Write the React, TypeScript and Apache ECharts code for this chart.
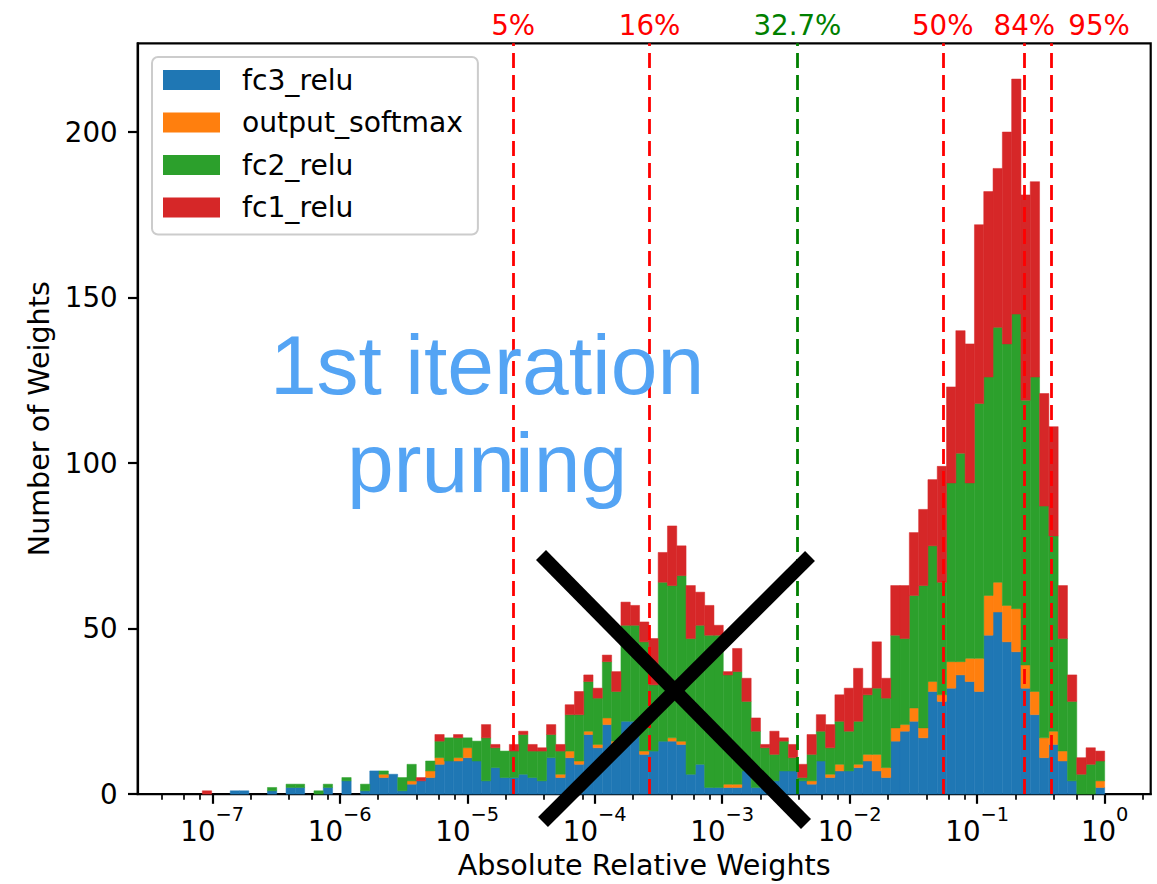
import React, { useEffect, useRef } from 'react';
import * as echarts from 'echarts';

// ---------- data (histogram of |relative weights|, log10 bins) ----------
const SERIES_NAMES = ['fc3_relu', 'output_softmax', 'fc2_relu', 'fc1_relu'];
const SERIES_COLORS = ['#1f77b4', '#ff7f0e', '#2ca02c', '#d62728'];

// bin edges span 10^BIN_LOG_MIN .. 10^BIN_LOG_MAX, equal width in log space
const BIN_LOG_MIN = -7.224;
const BIN_LOG_MAX = 0;

const fc3Relu = [
  0, 0, 0, 0, 0, 1, 1, 0, 0, 1,
  0, 2, 2, 0, 0, 2, 0, 4, 0, 1,
  7, 5, 6, 1, 3, 4, 5, 9, 10, 10,
  11, 10, 4, 8, 5, 5, 6, 5, 4, 11,
  5, 11, 9, 18, 14, 21, 15, 22, 22, 12,
  13, 16, 16, 15, 6, 9, 2, 2, 2, 2,
  7, 2, 3, 4, 7, 7, 4, 3, 10, 5,
  7, 7, 8, 10, 7, 5, 16, 19, 22, 17,
  31, 28, 32, 36, 34, 31, 48, 55, 46, 43,
  32, 24, 11, 15, 10, 4, 0, 0, 2,
];
const outputSoftmax = [
  0, 0, 0, 0, 0, 0, 0, 0, 0, 0,
  0, 0, 0, 0, 0, 0, 0, 0, 0, 0,
  0, 1, 0, 0, 1, 0, 2, 2, 0, 1,
  3, 0, 0, 0, 0, 0, 0, 0, 0, 0,
  1, 2, 1, 1, 1, 2, 1, 0, 0, 1,
  0, 0, 1, 1, 0, 0, 0, 0, 1, 1,
  0, 0, 0, 0, 0, 0, 0, 1, 0, 1,
  2, 0, 1, 2, 5, 3, 4, 2, 4, 3,
  3, 2, 8, 4, 7, 10, 12, 9, 11, 13,
  7, 7, 6, 4, 3, 0, 0, 0, 2,
];
const fc2Relu = [
  0, 0, 0, 0, 0, 0, 0, 0, 0, 1,
  0, 1, 1, 0, 1, 1, 0, 1, 0, 2,
  0, 1, 0, 4, 5, 0, 3, 5, 7, 6,
  3, 6, 13, 6, 8, 8, 12, 8, 9, 7,
  7, 11, 14, 15, 14, 17, 15, 29, 29, 33,
  20, 48, 46, 50, 41, 42, 46, 46, 33, 34,
  21, 17, 11, 8, 9, 4, 1, 8, 9, 8,
  13, 12, 13, 18, 20, 21, 28, 26, 34, 43,
  41, 34, 54, 63, 53, 77, 66, 77, 79, 89,
  80, 95, 70, 59, 34, 24, 6, 9, 6,
];
const fc1Relu = [
  0, 0, 1, 0, 0, 0, 0, 0, 0, 0,
  0, 0, 0, 0, 0, 0, 0, 0, 0, 0,
  0, 0, 0, 0, 0, 1, 0, 2, 0, 1,
  0, 0, 4, 1, 0, 2, 1, 2, 1, 3,
  2, 3, 7, 2, 3, 2, 6, 7, 6, 6,
  14, 9, 18, 9, 16, 10, 9, 3, 1, 7,
  7, 4, 1, 7, 1, 4, 4, 6, 5, 7,
  8, 13, 16, 2, 14, 6, 15, 16, 19, 23,
  20, 35, 29, 37, 42, 54, 56, 48, 64, 71,
  62, 59, 34, 33, 16, 8, 5, 5, 3,
];

// pruning thresholds (log10 of absolute relative weight)
const THRESHOLD_LABELS = ['5%', '16%', '32.7%', '50%', '84%', '95%'];
const THRESHOLD_LOG = [-4.639, -3.57, -2.41, -1.27, -0.634, -0.418];
const THRESHOLD_COLORS = ['#ff0000', '#ff0000', '#008000', '#ff0000', '#ff0000', '#ff0000'];
const THRESHOLD_LABEL_SHIFT = [0, 0, 0, 0, 0, 48];

const X_MAJOR_TICKS = [-7, -6, -5, -4, -3, -2, -1, 0];
const Y_TICKS = [0, 50, 100, 150, 200];
const X_MIN = -7.585;
const X_MAX = 0.361;
const Y_MAX = 226.8;

const FONT = 'DejaVu Sans';
const FS = 27.7;

export default function App() {
  const ref = useRef<HTMLDivElement>(null);

  useEffect(() => {
    const chart = echarts.init(ref.current as HTMLDivElement, null, { renderer: 'svg' });

    const layers = [fc3Relu, outputSoftmax, fc2Relu, fc1Relu];
    const nBins = fc3Relu.length;
    const w = (BIN_LOG_MAX - BIN_LOG_MIN) / nBins;
    const base = new Array(nBins).fill(0);
    const layerData = layers.map((vals) => {
      const d: number[][] = [];
      for (let k = 0; k < nBins; k++) {
        const y0 = base[k];
        const y1 = y0 + vals[k];
        base[k] = y1;
        if (vals[k] > 0) d.push([BIN_LOG_MIN + k * w, BIN_LOG_MIN + (k + 1) * w, y0, y1]);
      }
      return d;
    });

    const minorTicks: number[] = [];
    for (let d = -8; d <= 0; d++) {
      for (const m of [2, 4, 6, 8]) {
        const v = d + Math.log10(m);
        if (v > X_MIN && v < X_MAX) minorTicks.push(v);
      }
    }

    const series: any[] = SERIES_NAMES.map((name, i) => ({
      type: 'custom',
      name,
      coordinateSystem: 'cartesian2d',
      xAxisIndex: 0,
      yAxisIndex: 0,
      itemStyle: { color: SERIES_COLORS[i] },
      encode: { x: [0, 1], y: [2, 3] },
      data: layerData[i],
      renderItem: (params: any, api: any) => {
        const p0 = api.coord([api.value(0), api.value(3)]);
        const p1 = api.coord([api.value(1), api.value(2)]);
        return {
          type: 'rect',
          shape: { x: p0[0], y: p0[1], width: p1[0] - p0[0], height: p1[1] - p0[1] },
          style: { fill: SERIES_COLORS[i], stroke: SERIES_COLORS[i], lineWidth: 0.5 },
        };
      },
    }));

    series[3].markLine = {
      silent: true,
      symbol: ['none', 'none'],
      animation: false,
      lineStyle: { type: [15, 7], width: 2.8 },
      label: { show: true, position: 'end', fontSize: FS, fontFamily: FONT, distance: 4 },
      data: THRESHOLD_LOG.map((v, i) => ({
        xAxis: v,
        lineStyle: { color: THRESHOLD_COLORS[i] },
        label: {
          formatter: THRESHOLD_LABELS[i],
          color: THRESHOLD_COLORS[i],
          offset: [THRESHOLD_LABEL_SHIFT[i], 0],
        },
      })),
    };

    const option: any = {
      animation: false,
      backgroundColor: '#ffffff',
      grid: {
        left: 137.7,
        top: 43.3,
        width: 1013,
        height: 753.4,
        show: true,
        borderColor: '#000',
        borderWidth: 2.2,
        backgroundColor: 'transparent',
      },
      legend: {
        show: true,
        orient: 'vertical',
        left: 152,
        top: 57,
        padding: [8, 15, 12, 11],
        itemWidth: 57,
        itemHeight: 20,
        itemGap: 12.5,
        selectedMode: false,
        backgroundColor: 'rgba(255,255,255,0.8)',
        borderColor: '#cccccc',
        borderWidth: 2,
        borderRadius: 6,
        textStyle: {
          fontSize: 28.2,
          fontFamily: FONT,
          color: '#000',
          lineHeight: 30,
          padding: [0, 0, 0, 17],
        },
        data: SERIES_NAMES.map((n) => ({ name: n, icon: 'rect' })),
      },
      xAxis: [
        {
          type: 'value',
          min: X_MIN,
          max: X_MAX,
          name: 'Absolute Relative Weights',
          nameLocation: 'middle',
          nameGap: 54,
          nameTextStyle: { fontSize: 28.6, fontFamily: FONT, color: '#000' },
          axisLine: { show: true, onZero: false, lineStyle: { color: '#000', width: 2.2 } },
          axisTick: {
            show: true,
            length: 9.7,
            lineStyle: { color: '#000', width: 2.2 },
            customValues: X_MAJOR_TICKS,
          },
          axisLabel: {
            show: true,
            margin: 11,
            customValues: X_MAJOR_TICKS,
            formatter: (v: number) => {
              const e = Math.round(v);
              return e === 0 ? '{a|10}{b|0}' : `{a|10}{b|\u2212${-e}}`;
            },
            rich: {
              a: { fontSize: FS, fontFamily: FONT, color: '#000', lineHeight: 40, verticalAlign: 'bottom' },
              b: { fontSize: 19.4, fontFamily: FONT, color: '#000', lineHeight: 12, verticalAlign: 'top' },
            },
          },
          splitLine: { show: false },
        },
        {
          type: 'value',
          min: X_MIN,
          max: X_MAX,
          position: 'bottom',
          offset: 0,
          axisLine: { show: false, onZero: false },
          axisTick: {
            show: true,
            length: 5.6,
            lineStyle: { color: '#000', width: 1.7 },
            customValues: minorTicks,
          },
          axisLabel: { show: false },
          splitLine: { show: false },
        },
      ],
      yAxis: {
        type: 'value',
        min: 0,
        max: Y_MAX,
        name: 'Number of Weights',
        nameLocation: 'middle',
        nameGap: 72,
        nameTextStyle: { fontSize: 28.6, fontFamily: FONT, color: '#000' },
        axisLine: { show: true, onZero: false, lineStyle: { color: '#000', width: 2.2 } },
        axisTick: {
          show: true,
          length: 9.7,
          lineStyle: { color: '#000', width: 2.2 },
          customValues: Y_TICKS,
        },
        axisLabel: {
          fontSize: FS,
          fontFamily: FONT,
          color: '#000',
          margin: 20,
          customValues: Y_TICKS,
        },
        splitLine: { show: false },
      },
      graphic: [
        {
          type: 'text',
          z: 100,
          x: 487,
          y: 365,
          style: {
            text: '1st iteration',
            fontSize: 84,
            fontFamily: 'Liberation Sans',
            fill: '#54a4f4',
            align: 'center',
            verticalAlign: 'middle',
          },
        },
        {
          type: 'text',
          z: 100,
          x: 487,
          y: 463,
          style: {
            text: 'pruning',
            fontSize: 84,
            fontFamily: 'Liberation Sans',
            fill: '#54a4f4',
            align: 'center',
            verticalAlign: 'middle',
          },
        },
        {
          type: 'line',
          z: 100,
          shape: { x1: 541, y1: 555, x2: 806, y2: 824 },
          style: { stroke: '#000', lineWidth: 14 },
        },
        {
          type: 'line',
          z: 100,
          shape: { x1: 810, y1: 556, x2: 543, y2: 822 },
          style: { stroke: '#000', lineWidth: 14 },
        },
      ],
      series,
    };

    chart.setOption(option);
    return () => {
      chart.dispose();
    };
  }, []);

  return (
    <div
      ref={ref}
      style={{ position: 'fixed', left: 0, top: 0, width: 1157, height: 884 }}
    />
  );
}
